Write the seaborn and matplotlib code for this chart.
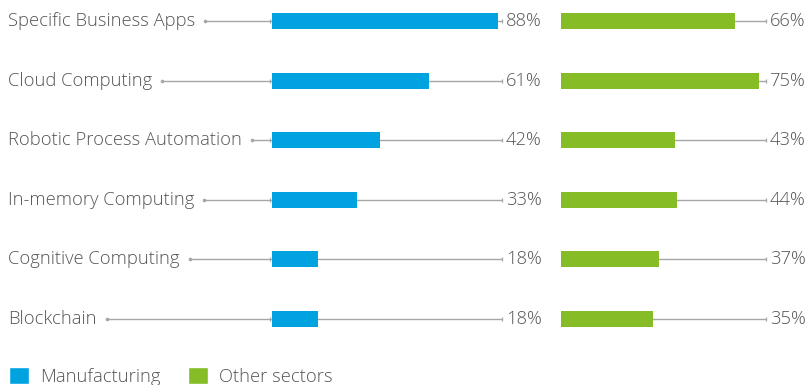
import matplotlib
matplotlib.use("Agg")
import matplotlib.pyplot as plt
import seaborn as sns
from matplotlib.patches import Patch

categories = ["Specific Business Apps", "Cloud Computing", "Robotic Process Automation",
              "In-memory Computing", "Cognitive Computing", "Blockchain"]
manufacturing = [88, 61, 42, 33, 18, 18]
other_sectors = [66, 75, 43, 44, 37, 35]
series_names = ["Manufacturing", "Other sectors"]

BLUE = "#00A3E0"
GREEN = "#86BC25"
LINE = "#A6A6A6"
TXT = "#555555"

sns.set_theme(style="white")
plt.rcParams["font.family"] = ["Open Sans", "DejaVu Sans"]

W, H = 808, 385
fig = plt.figure(figsize=(W / 100, H / 100), dpi=100)

def px_axes(left, width):
    top_px, bot_px = 0, 350
    return fig.add_axes([left / W, 1 - bot_px / H, width / W, (bot_px - top_px) / H])

ax1 = px_axes(272, 257)
ax2 = px_axes(561, 264)

for ax, vals, col in [(ax1, manufacturing, BLUE), (ax2, other_sectors, GREEN)]:
    sns.barplot(x=vals, y=categories, ax=ax, color=col, width=0.27, orient="h",
                saturation=1, zorder=3, linewidth=0)
    ax.set_xlim(0, 100)
    ax.set_ylim(5.52, -0.352)
    ax.set_axis_off()
    ax.patch.set_alpha(0)

fs = 13.2
renderer = fig.canvas.get_renderer()

def px_to_data(ax, px):
    return ax.transData.inverted().transform((px, 0))[0]

end1 = px_to_data(ax1, 502)
end2 = px_to_data(ax2, 766)
tick1 = px_to_data(ax1, 270)

for i, cat in enumerate(categories):
    t = fig.text(8 / W, ax1.transData.transform((0, i))[1] / H, cat, fontsize=fs,
                 color=TXT, ha="left", va="center", fontweight="light")
    bb = t.get_window_extent(renderer)
    start = px_to_data(ax1, bb.x1 + 10)
    ax1.plot([start, end1], [i, i], color=LINE, lw=1, zorder=1, clip_on=False)
    ax1.plot([start], [i], marker="o", ms=1.6, color=LINE, zorder=1, clip_on=False)
    ax1.plot([tick1, end1], [i, i], ls="none", marker="|", ms=3, mew=0.9, color=LINE,
             zorder=1, clip_on=False)
    ax1.text(px_to_data(ax1, 506), i, f"{manufacturing[i]}%", fontsize=fs, color=TXT,
             ha="left", va="center", fontweight="light", clip_on=False)
    ax2.plot([0, end2], [i, i], color=LINE, lw=1, zorder=1, clip_on=False)
    ax2.plot([end2], [i], ls="none", marker="|", ms=3, mew=0.9, color=LINE,
             zorder=1, clip_on=False)
    ax2.text(px_to_data(ax2, 770), i, f"{other_sectors[i]}%", fontsize=fs, color=TXT,
             ha="left", va="center", fontweight="light", clip_on=False)

handles = [Patch(facecolor=BLUE, label=series_names[0]),
           Patch(facecolor=GREEN, label=series_names[1])]
leg = fig.legend(handles=handles, loc="lower left", bbox_to_anchor=(-0.002, -0.03),
                 ncol=2, frameon=False, fontsize=fs, handlelength=1.06, handleheight=1.06,
                 columnspacing=1.5, handletextpad=0.62, borderaxespad=0.2)
for txt in leg.get_texts():
    txt.set_color(TXT)
    txt.set_fontweight("light")

fig.savefig("out.png", dpi=100)
